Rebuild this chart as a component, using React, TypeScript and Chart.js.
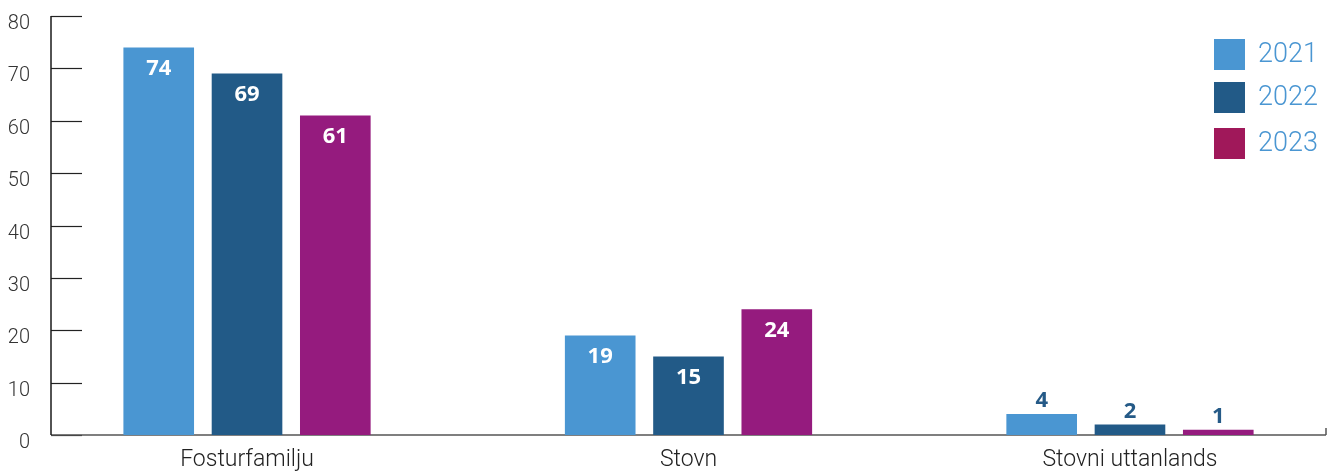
import React, { useEffect, useRef } from "react";
import { Chart, registerables } from "chart.js";

Chart.register(...registerables);

const categories = ["Fosturfamilju", "Stovn", "Stovni uttanlands"];
const years = ["2021", "2022", "2023"];
const values2021 = [74, 19, 4];
const values2022 = [69, 15, 2];
const values2023 = [61, 24, 1];
const barColors = ["#4a96d2", "#225a87", "#951b7e"];
const legendColors = ["#4a96d2", "#225a87", "#a0185a"];
const yTicks = [0, 10, 20, 30, 40, 50, 60, 70, 80];

const LIGHT = "Roboto, 'Liberation Sans', sans-serif";
const BOLD = "'Open Sans', 'DejaVu Sans', sans-serif";

const decorPlugin = {
  id: "decor",
  beforeDatasetsDraw(chart: any) {
    const { ctx, chartArea } = chart;
    const { left, right, top, bottom } = chartArea;
    const y = chart.scales.y;
    ctx.save();
    ctx.strokeStyle = "#222";
    ctx.lineWidth = 1.2;
    yTicks.forEach((v) => {
      const py = Math.round(y.getPixelForValue(v)) + 0.5;
      ctx.beginPath();
      ctx.moveTo(left, py);
      ctx.lineTo(left + 31, py);
      ctx.stroke();
    });
    ctx.strokeStyle = "#555";
    ctx.lineWidth = 1.5;
    ctx.beginPath();
    ctx.moveTo(left, bottom);
    ctx.lineTo(right, bottom);
    ctx.stroke();
    ctx.beginPath();
    ctx.moveTo(right, bottom);
    ctx.lineTo(right, bottom - 7);
    ctx.stroke();
    ctx.strokeStyle = "#1a1a1a";
    ctx.lineWidth = 1.5;
    ctx.beginPath();
    ctx.moveTo(left, top);
    ctx.lineTo(left, bottom);
    ctx.stroke();
    ctx.restore();
  },
  afterDatasetsDraw(chart: any) {
    const { ctx } = chart;
    ctx.save();
    ctx.font = `700 22px ${BOLD}`;
    ctx.textAlign = "center";
    ctx.textBaseline = "middle";
    chart.data.datasets.forEach((ds: any, di: number) => {
      const meta = chart.getDatasetMeta(di);
      meta.data.forEach((bar: any, i: number) => {
        const v = ds.data[i].y;
        if (v >= 10) {
          ctx.fillStyle = "#ffffff";
          ctx.fillText(String(v), bar.x, bar.y + 21);
        } else {
          ctx.fillStyle = "#255a87";
          ctx.fillText(String(v), bar.x, bar.y - 13);
        }
      });
    });
    ctx.restore();
  },
  afterDraw(chart: any) {
    const { ctx } = chart;
    ctx.save();
    ctx.font = `300 27px ${LIGHT}`;
    ctx.textBaseline = "middle";
    ctx.textAlign = "left";
    const tops = [39, 82, 128];
    years.forEach((yr, i) => {
      ctx.fillStyle = legendColors[i];
      ctx.fillRect(1214, tops[i], 31, 31);
      ctx.fillStyle = "#4a96d2";
      ctx.fillText(yr, 1258, tops[i] + 16);
    });
    ctx.restore();
  },
};

export default function App() {
  const ref = useRef<HTMLCanvasElement | null>(null);
  useEffect(() => {
    if (!ref.current) return;
    const series = [values2021, values2022, values2023];
    const chart = new Chart(ref.current, {
      type: "bar",
      data: {
        datasets: series.map((vals, si) => ({
          label: years[si],
          data: vals.map((v, i) => ({ x: i, y: v })),
          backgroundColor: barColors[si],
          borderWidth: 0,
          categoryPercentage: 0.6,
          barPercentage: 0.8,
        })),
      },
      options: {
        responsive: false,
        animation: false,
        layout: { padding: { top: 16, right: 7, left: 0, bottom: 0 } },
        plugins: { legend: { display: false }, tooltip: { enabled: false } },
        scales: {
          x: {
            type: "linear",
            offset: false,
            bounds: "data",
            min: -0.444,
            max: 2.444,
            afterBuildTicks: (scale: any) => {
              scale.ticks = categories.map((_, i) => ({ value: i }));
            },
            afterFit: (scale: any) => {
              scale.height = 37;
              scale.paddingLeft = 0;
              scale.paddingRight = 0;
            },
            grid: { display: false, drawTicks: false },
            border: { display: false },
            ticks: {
              autoSkip: false,
              maxRotation: 0,
              padding: 11,
              color: "#222",
              font: { family: LIGHT, size: 23, weight: "300" },
              callback: (v: any) => categories[v as number] ?? "",
            },
          },
          y: {
            min: 0,
            max: 80,
            afterBuildTicks: (scale: any) => {
              scale.ticks = yTicks.map((v) => ({ value: v }));
            },
            afterFit: (scale: any) => {
              scale.width = 51;
              scale.paddingTop = 0;
              scale.paddingBottom = 0;
            },
            grid: { display: false, drawTicks: false },
            border: { display: false },
            ticks: {
              padding: 21,
              labelOffset: 8,
              color: "#333",
              font: { family: LIGHT, size: 20, weight: "300" },
            },
          },
        },
      },
      plugins: [decorPlugin],
    });
    return () => chart.destroy();
  }, []);
  return (
    <div style={{ position: "absolute", left: 0, top: 0, width: 1333, height: 472, background: "#fff" }}>
      <canvas ref={ref} width={1333} height={472} style={{ display: "block" }} />
    </div>
  );
}
